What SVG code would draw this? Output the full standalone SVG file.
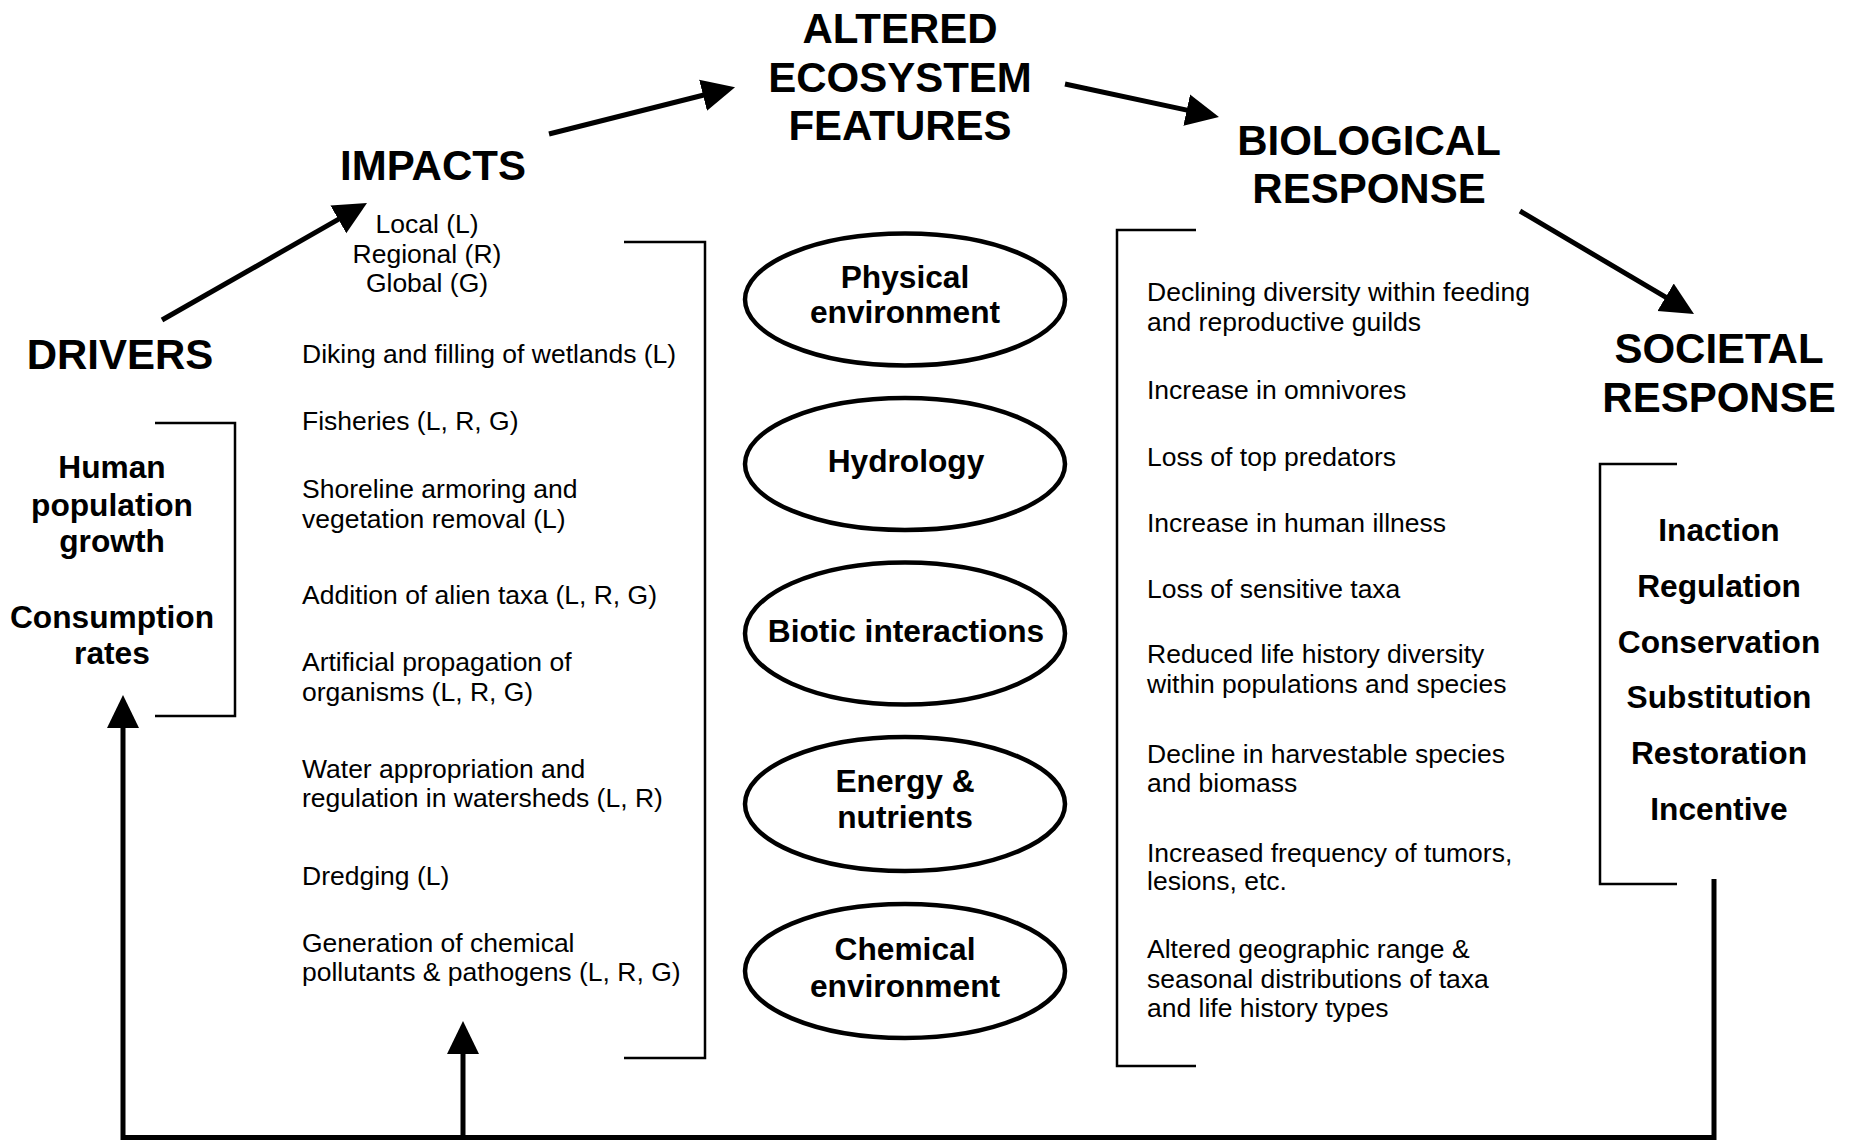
<svg xmlns="http://www.w3.org/2000/svg" width="1851" height="1140" viewBox="0 0 1851 1140">
<defs>
<style>
text { font-family: "Liberation Sans", Arial, sans-serif; fill: #000; }
.h { font-size: 42px; font-weight: bold; text-anchor: middle; }
.b { font-size: 31.7px; font-weight: bold; text-anchor: middle; }
.r { font-size: 26.5px; }
.rc { font-size: 26.5px; text-anchor: middle; }
.arrow { fill: none; stroke: #000; stroke-width: 5; marker-end: url(#ah); }
.bracket { fill: none; stroke: #000; stroke-width: 2.5; }
.ell { fill: #fff; stroke: #000; stroke-width: 4.5; }
</style>
<marker id="ah" markerUnits="userSpaceOnUse" markerWidth="34" markerHeight="33" refX="5" refY="16" orient="auto" viewBox="0 0 34 32">
<path d="M0,0 L33,16 L0,32 z" fill="#000"/>
</marker>
</defs>
<rect width="1851" height="1140" fill="#fff"/>

<g id="connectors">
<line class="arrow" x1="162" y1="320" x2="342.7" y2="216.9"/>
<line class="arrow" x1="549" y1="134" x2="707.9" y2="94"/>
<line class="arrow" x1="1065" y1="84" x2="1191.6" y2="111.1"/>
<line class="arrow" x1="1520" y1="211" x2="1669.9" y2="299.7"/>
<polyline class="arrow" points="1714,879 1714,1137.5 123,1137.5 123,723"/>
<line class="arrow" x1="463" y1="1137.5" x2="463" y2="1049"/>
</g>

<g id="drivers">
<text class="h" x="120" y="369">DRIVERS</text>
<polyline class="bracket" points="155,423 235,423 235,716 155,716"/>
<text class="b" x="112" y="478">Human</text>
<text class="b" x="112" y="516">population</text>
<text class="b" x="112" y="552">growth</text>
<text class="b" x="112" y="628">Consumption</text>
<text class="b" x="112" y="664">rates</text>
</g>

<g id="impacts">
<text class="h" x="433" y="180">IMPACTS</text>
<text class="rc" x="427" y="233">Local (L)</text>
<text class="rc" x="427" y="263">Regional (R)</text>
<text class="rc" x="427" y="292">Global (G)</text>
<polyline class="bracket" points="624,242 705,242 705,1058 624,1058"/>
<text class="r" x="302" y="363">Diking and filling of wetlands (L)</text>
<text class="r" x="302" y="430">Fisheries (L, R, G)</text>
<text class="r" x="302" y="498">Shoreline armoring and</text>
<text class="r" x="302" y="528">vegetation removal (L)</text>
<text class="r" x="302" y="604">Addition of alien taxa (L, R, G)</text>
<text class="r" x="302" y="671">Artificial propagation of</text>
<text class="r" x="302" y="701">organisms (L, R, G)</text>
<text class="r" x="302" y="778">Water appropriation and</text>
<text class="r" x="302" y="807">regulation in watersheds (L, R)</text>
<text class="r" x="302" y="885">Dredging (L)</text>
<text class="r" x="302" y="952">Generation of chemical</text>
<text class="r" x="302" y="981">pollutants &amp; pathogens (L, R, G)</text>
</g>

<g id="altered-ecosystem-features">
<text class="h" x="900" y="43">ALTERED</text>
<text class="h" x="900" y="92">ECOSYSTEM</text>
<text class="h" x="900" y="140">FEATURES</text>
</g>

<g id="physical-environment">
<ellipse class="ell" cx="905" cy="299.5" rx="160" ry="66"/>
<text class="b" x="905" y="288">Physical</text>
<text class="b" x="905" y="323">environment</text>
</g>
<g id="hydrology">
<ellipse class="ell" cx="905" cy="464" rx="160" ry="66"/>
<text class="b" x="906" y="472">Hydrology</text>
</g>
<g id="biotic-interactions">
<ellipse class="ell" cx="905" cy="633.5" rx="160" ry="71"/>
<text class="b" x="906" y="642">Biotic interactions</text>
</g>
<g id="energy-nutrients">
<ellipse class="ell" cx="905" cy="804" rx="160" ry="67"/>
<text class="b" x="905" y="792">Energy &amp;</text>
<text class="b" x="905" y="828">nutrients</text>
</g>
<g id="chemical-environment">
<ellipse class="ell" cx="905" cy="971" rx="160" ry="67"/>
<text class="b" x="905" y="960">Chemical</text>
<text class="b" x="905" y="997">environment</text>
</g>

<g id="biological-response">
<text class="h" x="1369" y="155">BIOLOGICAL</text>
<text class="h" x="1369" y="203">RESPONSE</text>
<polyline class="bracket" points="1196,230 1117,230 1117,1066 1196,1066"/>
<text class="r" x="1147" y="301">Declining diversity within feeding</text>
<text class="r" x="1147" y="331">and reproductive guilds</text>
<text class="r" x="1147" y="399">Increase in omnivores</text>
<text class="r" x="1147" y="466">Loss of top predators</text>
<text class="r" x="1147" y="532">Increase in human illness</text>
<text class="r" x="1147" y="598">Loss of sensitive taxa</text>
<text class="r" x="1147" y="663">Reduced life history diversity</text>
<text class="r" x="1147" y="693">within populations and species</text>
<text class="r" x="1147" y="763">Decline in harvestable species</text>
<text class="r" x="1147" y="792">and biomass</text>
<text class="r" x="1147" y="862">Increased frequency of tumors,</text>
<text class="r" x="1147" y="890">lesions, etc.</text>
<text class="r" x="1147" y="958">Altered geographic range &amp;</text>
<text class="r" x="1147" y="988">seasonal distributions of taxa</text>
<text class="r" x="1147" y="1017">and life history types</text>
</g>

<g id="societal-response">
<text class="h" x="1719" y="363">SOCIETAL</text>
<text class="h" x="1719" y="412">RESPONSE</text>
<polyline class="bracket" points="1677,464 1600,464 1600,884 1677,884"/>
<text class="b" x="1719" y="541">Inaction</text>
<text class="b" x="1719" y="597">Regulation</text>
<text class="b" x="1719" y="653">Conservation</text>
<text class="b" x="1719" y="708">Substitution</text>
<text class="b" x="1719" y="764">Restoration</text>
<text class="b" x="1719" y="820">Incentive</text>
</g>
</svg>
